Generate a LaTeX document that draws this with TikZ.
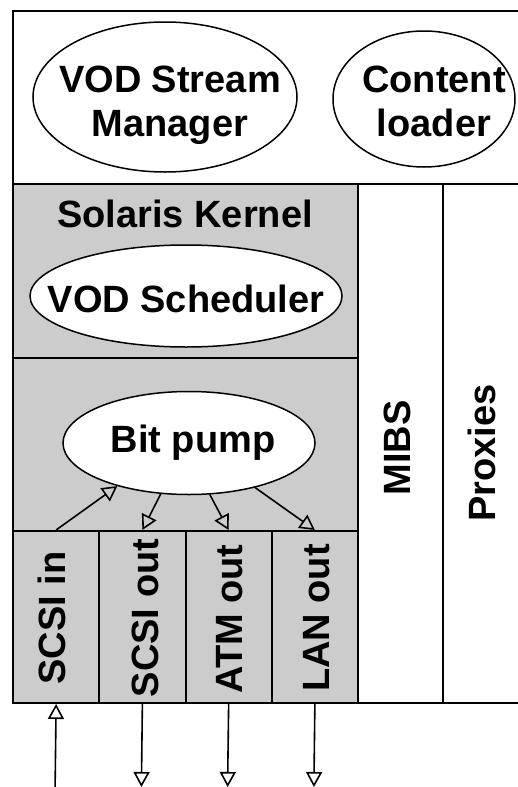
\documentclass[tikz,border=0pt]{standalone}
\usepackage{fontspec}
\setmainfont{Liberation Sans}
\usetikzlibrary{shapes.geometric,arrows.meta}
\definecolor{panel}{RGB}{204,204,204}
\begin{document}
\begin{tikzpicture}[x=1pt,y=-1pt,
  region/.style={draw, line width=2pt, inner sep=0pt, anchor=north west},
  ell/.style={draw, ellipse, fill=white, line width=1.5pt, inner sep=0pt},
  lbl/.style={font=\fontsize{38}{44}\selectfont\bfseries, inner sep=0pt, align=center},
  caplbl/.style={lbl, text height=27pt, text depth=0pt},
  vlbl/.style={caplbl, rotate=90},
  flow/.style={line width=1.6pt, arrows={-Triangle[open, length=15pt, width=16pt]}}
]
\useasboundingbox (0,0) rectangle (517,787);
\fill[white] (0,0) rectangle (517,787);
% regions
\node[region, minimum width=520pt, minimum height=173pt] (app) at (12,10) {};
\node[region, fill=panel, minimum width=345pt, minimum height=174pt] (kernel) at (12,183) {};
\node[region, fill=panel, minimum width=345pt, minimum height=173pt] (pump) at (12,357) {};
\node[region, fill=panel, minimum width=86.25pt, minimum height=172pt] (scsiin) at (12,530) {};
\node[region, fill=panel, minimum width=86.25pt, minimum height=172pt] (scsiout) at (98.25,530) {};
\node[region, fill=panel, minimum width=86.25pt, minimum height=172pt] (atmout) at (184.5,530) {};
\node[region, fill=panel, minimum width=86.25pt, minimum height=172pt] (lanout) at (270.75,530) {};
\node[region, minimum width=85pt, minimum height=519pt] (mibs) at (357,183) {};
\node[region, minimum width=90pt, minimum height=519pt] (proxies) at (442,183) {};
% ellipses
\node[ell, minimum width=264pt, minimum height=150pt] (vsm) at (165,97) {};
\node[ell, minimum width=182pt, minimum height=136pt] (cl) at (424,99) {};
\node[ell, minimum width=312pt, minimum height=102pt] (sched) at (186,296) {};
\node[ell, minimum width=252pt, minimum height=103pt] (bp) at (189,443) {};
% labels
\node[lbl] (vsmtext) at (170,105) {VOD Stream\\Manager};
\node[lbl] (cltext) at (434,101) {Content\\loader};
\node[caplbl] (kerneltext) at (185,214) {Solaris Kernel};
\node[caplbl] (schedtext) at (186,299) {VOD Scheduler};
\node[caplbl] (bptext) at (193,439) {Bit pump};
\node[vlbl] (scsiintext) at (52,618) {SCSI in};
\node[vlbl] (scsiouttext) at (145,618) {SCSI out};
\node[vlbl] (atmouttext) at (229,619) {ATM out};
\node[vlbl] (lanouttext) at (316,618) {LAN out};
\node[vlbl] (mibstext) at (397,448) {MIBS};
\node[vlbl] (proxiestext) at (482,453) {Proxies};
% connectors
\draw[flow] (scsiin.north) -- (bp.211);
\draw[flow] (bp.241) -- (scsiout.north);
\draw[flow] (bp.292) -- (atmout.north);
\draw[flow] (bp.326) -- (lanout.north);
\coordinate (inend) at (55.1,787);
\coordinate (soend) at (141.4,787);
\coordinate (aoend) at (227.6,787);
\coordinate (loend) at (313.9,787);
\draw[flow] (inend) -- (scsiin.south);
\draw[flow] (scsiout.south) -- (soend);
\draw[flow] (atmout.south) -- (aoend);
\draw[flow] (lanout.south) -- (loend);
\end{tikzpicture}
\end{document}
